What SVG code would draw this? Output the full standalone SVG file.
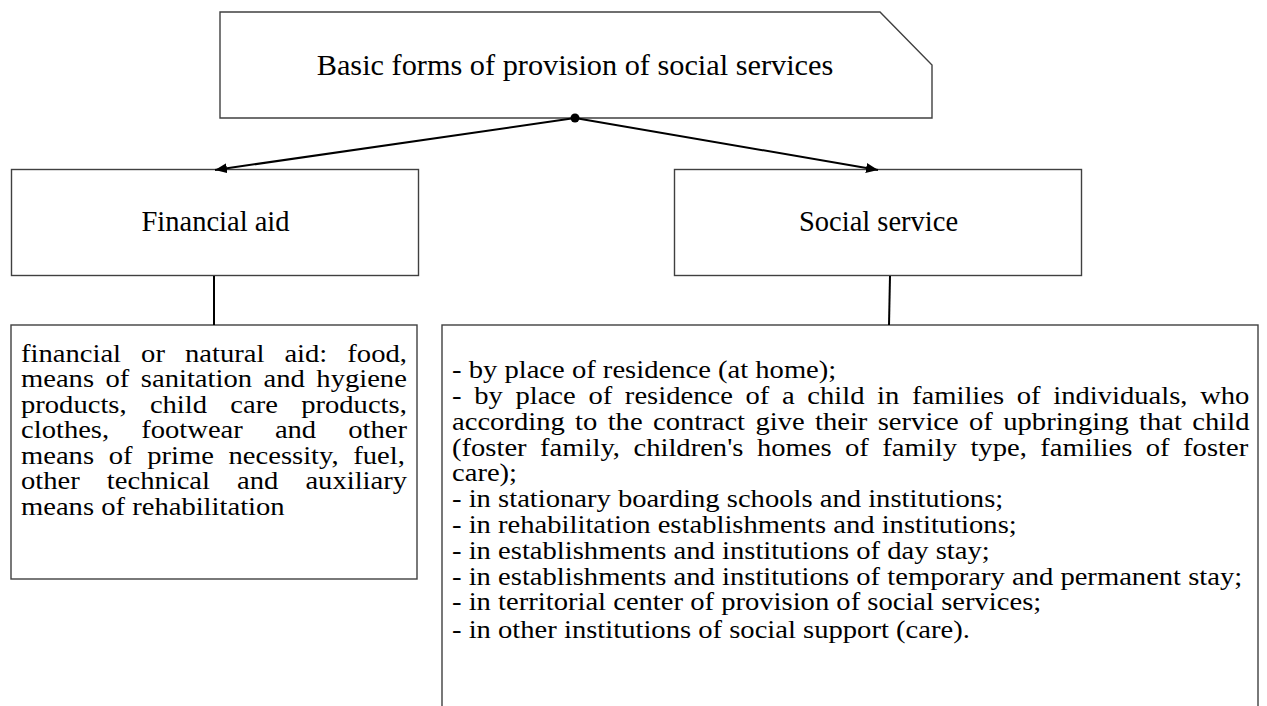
<svg xmlns="http://www.w3.org/2000/svg" width="1267" height="706" viewBox="0 0 1267 706">
<style>
.box{fill:#fff;stroke:#404040;stroke-width:1.4}
.t{font-family:"Liberation Serif","Times New Roman",serif;fill:#000}
.lbl{font-size:28.5px}
.body{font-size:26px}
.con{stroke:#000;stroke-width:2;fill:none}
</style>
<defs>
<marker id="arr" viewBox="0 0 12 10" refX="12" refY="5" markerWidth="12" markerHeight="10" markerUnits="userSpaceOnUse" orient="auto">
<path d="M0,0 L12,5 L0,10 Z" fill="#000"/>
</marker>
</defs>
<rect width="1267" height="706" fill="#fff"/>
<g id="root">
<path class="box" d="M220,12 L880,12 L932,65 L932,118 L220,118 Z"/>
<text class="t" x="575" y="75" font-size="30.3" text-anchor="middle">Basic forms of provision of social services</text>
</g>
<g id="financial-aid">
<rect class="box" x="11.5" y="169.5" width="407" height="106"/>
<text class="t lbl" x="215.5" y="231" text-anchor="middle">Financial aid</text>
</g>
<g id="social-service">
<rect class="box" x="674.5" y="169.5" width="407" height="106"/>
<text class="t lbl" x="878.5" y="231" text-anchor="middle">Social service</text>
</g>
<g id="financial-aid-details">
<rect class="box" x="11" y="325" width="406" height="254"/>
<text class="t body" transform="scale(1.1,1)">
<tspan x="19.09" y="362" word-spacing="11.73">financial or natural aid: food,</tspan>
<tspan x="19.09" y="387.5" word-spacing="3.95">means of sanitation and hygiene</tspan>
<tspan x="19.09" y="413" word-spacing="14.64">products, child care products,</tspan>
<tspan x="19.09" y="438.5" word-spacing="22.64">clothes, footwear and other</tspan>
<tspan x="19.09" y="464" word-spacing="6.82">means of prime necessity, fuel,</tspan>
<tspan x="19.09" y="489.5" word-spacing="18.09">other technical and auxiliary</tspan>
<tspan x="19.09" y="515">means of rehabilitation</tspan>
</text>
</g>
<g id="social-service-details">
<rect class="box" x="442" y="325" width="816" height="400"/>
<text class="t body" transform="scale(1.1,1)">
<tspan x="410.91" y="378">- by place of residence (at home);</tspan>
<tspan x="410.91" y="404" word-spacing="5">- by place of residence of a child in families of individuals, who</tspan>
<tspan x="410.91" y="430" word-spacing="2.91">according to the contract give their service of upbringing that child</tspan>
<tspan x="410.91" y="456" word-spacing="5.73">(foster family, children's homes of family type, families of foster</tspan>
<tspan x="410.91" y="481">care);</tspan>
<tspan x="410.91" y="507">- in stationary boarding schools and institutions;</tspan>
<tspan x="410.91" y="533">- in rehabilitation establishments and institutions;</tspan>
<tspan x="410.91" y="559">- in establishments and institutions of day stay;</tspan>
<tspan x="410.91" y="585">- in establishments and institutions of temporary and permanent stay;</tspan>
<tspan x="410.91" y="610">- in territorial center of provision of social services;</tspan>
<tspan x="410.91" y="638">- in other institutions of social support (care).</tspan>
</text>
</g>
<g id="connectors">
<line class="con" x1="575" y1="118" x2="215" y2="170" marker-end="url(#arr)"/>
<line class="con" x1="575" y1="118" x2="878" y2="170" marker-end="url(#arr)"/>
<circle cx="575" cy="118" r="4.5" fill="#000"/>
<line class="con" x1="214" y1="276" x2="214" y2="325" stroke-width="1.6"/>
<line class="con" x1="890" y1="276" x2="889" y2="325" stroke-width="1.6"/>
</g>
</svg>
